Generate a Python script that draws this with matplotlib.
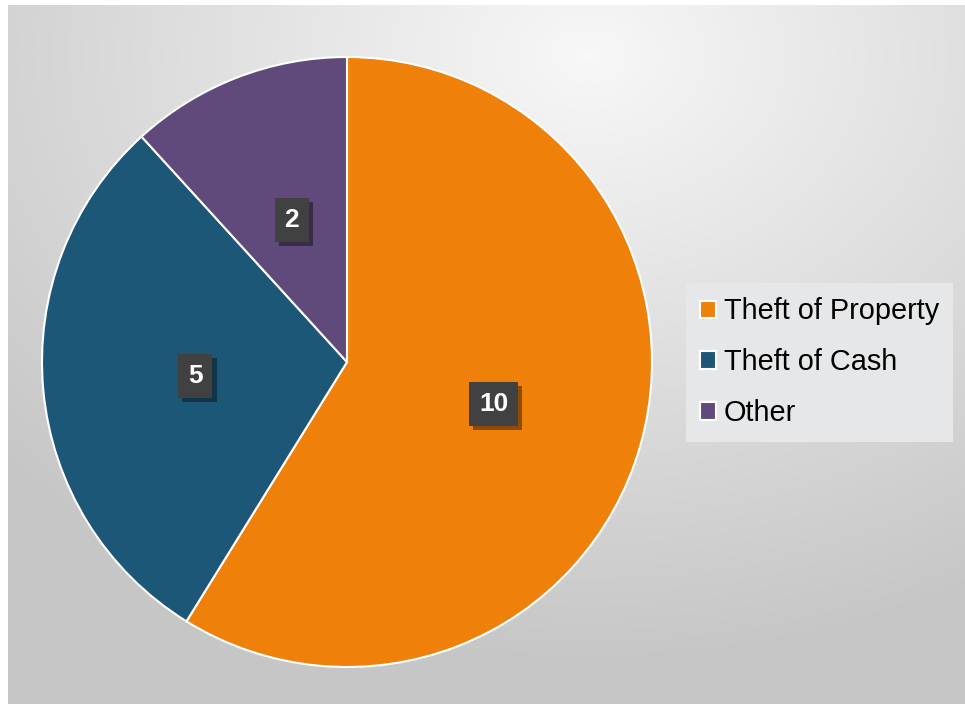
import numpy as np
import matplotlib
matplotlib.use("Agg")
import matplotlib.pyplot as plt
import matplotlib.patheffects as pe

categories = ["Theft of Property", "Theft of Cash", "Other"]
values = [10, 5, 2]
colors = ["#EF800A", "#1D5777", "#604A7B"]

W, H = 965, 704
plt.rcParams["font.family"] = ["Liberation Sans", "DejaVu Sans"]

fig = plt.figure(figsize=(W / 100, H / 100), dpi=100)
fig.patch.set_facecolor("white")

# background gradient panel
bg = fig.add_axes([8 / W, 0, 1 - 8 / W, (H - 5) / H])
bg.set_axis_off()
yy, xx = np.mgrid[0:H - 5, 0:W - 8]
d = np.hypot((xx - 580) / 1.3, yy - 50)
shade = 0.97 - 0.19 * np.clip(d / 600, 0, 1)
bg.imshow(np.dstack([shade] * 3), aspect="auto", interpolation="bilinear")

# pie
ax = fig.add_axes([(347 - 305) / W, (H - 362 - 305) / H, 610 / W, 610 / H])
wedges, _, autotexts = ax.pie(
    values,
    colors=colors,
    startangle=90,
    counterclock=False,
    autopct=lambda p: f"{p * sum(values) / 100:.0f}",
    pctdistance=0.5,
    wedgeprops=dict(edgecolor="white", linewidth=1.5),
    textprops=dict(color="white", fontsize=19, fontweight="bold"),
)
ax.set_xlim(-1, 1)
ax.set_ylim(-1, 1)
ax.set_aspect("equal")

for t in autotexts:
    t.set_bbox(dict(boxstyle="square,pad=0.38", facecolor="#414141",
                    edgecolor="none", linewidth=0))
    t.get_bbox_patch().set_path_effects([
        pe.withSimplePatchShadow(offset=(3, -3), shadow_rgbFace="black", alpha=0.4),
    ])

leg = fig.legend(
    wedges, categories,
    loc="upper left",
    bbox_to_anchor=(686 / W, 1 - 283 / H),
    fontsize=20.8,
    frameon=True,
    fancybox=False,
    facecolor="#E6E7E8",
    edgecolor="none",
    framealpha=1,
    handlelength=0.55,
    handleheight=0.55,
    handletextpad=0.25,
    labelspacing=0.79,
    borderpad=0.5,
    borderaxespad=0,
)
for h in leg.legend_handles:
    h.set_edgecolor("white")
    h.set_linewidth(1.5)

fig.savefig("out.png", dpi=100)
